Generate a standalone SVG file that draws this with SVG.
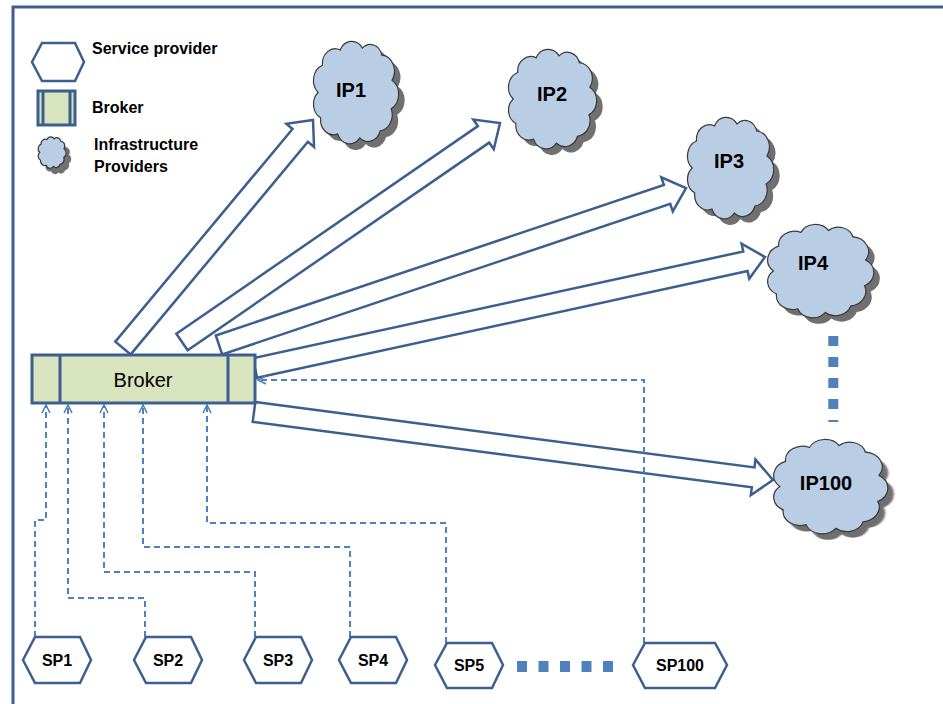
<svg xmlns="http://www.w3.org/2000/svg" xmlns:xlink="http://www.w3.org/1999/xlink" width="943" height="704" viewBox="0 0 943 704">
  <style>
    .frame { fill: none; stroke: #3d5f8f; stroke-width: 3; }
    .hex { fill: #ffffff; stroke: #3d5f8f; stroke-width: 2.5; stroke-linejoin: miter; }
    .brk { fill: #d7e4bd; stroke: #3d5f8f; stroke-width: 3; }
    .brkline { stroke: #3d5f8f; stroke-width: 3; }
    .cloud { fill: #b9cde5; stroke: #3a3a3a; stroke-width: 1.2; }
    .shadow { fill: #6f6f6f; stroke: none; }
    .block { fill: #ffffff; stroke: #3d5f8f; stroke-width: 2.5; stroke-linejoin: miter; }
    .dash { fill: none; stroke: #4f81bd; stroke-width: 2; stroke-dasharray: 6 4; marker-end: url(#chev); }
    .dots { fill: none; stroke: #4f81bd; }
    .lbl { font-family: "Liberation Sans", Arial, sans-serif; font-weight: bold; fill: #000000; }
    .ip { font-size: 20px; text-anchor: middle; }
    .sp { font-size: 16px; text-anchor: middle; }
    .leg { font-size: 16px; }
    .main { font-family: "Liberation Sans", Arial, sans-serif; font-size: 20px; fill: #000000; text-anchor: middle; }
  </style>
  <defs>
    <!-- generic cloud outline in a 100x100 box -->
    <path id="cloud" vector-effect="non-scaling-stroke" d="M6,50 A16,16 0 0 1 11,23 A15,15 0 0 1 32,8 A15,15 0 0 1 58,6 A14,14 0 0 1 81,13 A16,16 0 0 1 93,38 A16,16 0 0 1 92,66 A16,16 0 0 1 79,88 A15,15 0 0 1 55,95 A15,15 0 0 1 29,91 A15,15 0 0 1 9,75 A15,15 0 0 1 6,50 Z"/>
    <filter id="soft" x="-10%" y="-10%" width="120%" height="120%">
      <feGaussianBlur stdDeviation="0.7"/>
    </filter>
    <marker id="chev" viewBox="0 0 10 10" refX="9" refY="5" markerWidth="10" markerHeight="10" markerUnits="userSpaceOnUse" orient="auto">
      <path d="M1,1 L9,5 L1,9" fill="none" stroke="#4f81bd" stroke-width="1.6"/>
    </marker>
  </defs>

  <rect class="frame" x="13" y="7" width="945" height="712"/>

  <!-- legend -->
  <g id="legend">
    <polygon class="hex" points="32,62 42,43 75,43 84,62 75,81 42,81"/>
    <text class="lbl leg" x="92" y="54">Service provider</text>
    <rect class="brk" x="38" y="91" width="37" height="34" stroke-width="2.5"/>
    <line class="brkline" x1="43" y1="91" x2="43" y2="125" stroke-width="2"/>
    <line class="brkline" x1="70" y1="91" x2="70" y2="125" stroke-width="2"/>
    <text class="lbl leg" x="92" y="113">Broker</text>
    <use href="#cloud" class="shadow" filter="url(#soft)" transform="translate(43,143) scale(0.28,0.31)"/>
    <use href="#cloud" class="cloud" transform="translate(38,137) scale(0.28,0.31)"/>
    <text class="lbl leg" x="94" y="150">Infrastructure</text>
    <text class="lbl leg" x="94" y="172">Providers</text>
  </g>

  <!-- connectors -->
  <g id="connectors">
    <!-- broker to infrastructure providers -->
    <polygon class="block" transform="translate(123,348) rotate(-50.19)" points="0,-10 276.8,-10 276.8,-18 296.8,0 276.8,18 276.8,10 0,10"/>
    <polygon class="block" transform="translate(182,342) rotate(-34.55)" points="0,-10 366.1,-10 366.1,-18 386.1,0 366.1,18 366.1,10 0,10"/>
    <polygon class="block" transform="translate(219,345) rotate(-18.58)" points="0,-10 472.7,-10 472.7,-18 492.7,0 472.7,18 472.7,10 0,10"/>
    <polygon class="block" transform="translate(255,368) rotate(-12.28)" points="0,-10 501.9,-10 501.9,-18 521.9,0 501.9,18 501.9,10 0,10"/>
    <polygon class="block" transform="translate(254,412) rotate(7.46)" points="0,-10 503.4,-10 503.4,-18 523.4,0 503.4,18 503.4,10 0,10"/>

    <!-- service providers to broker -->
    <path class="dash" d="M35,637 V520 H46 V405"/>
    <path class="dash" d="M145,637 V598 H68 V405"/>
    <path class="dash" d="M255,637 V572 H104 V405"/>
    <path class="dash" d="M350,637 V547 H143 V405"/>
    <path class="dash" d="M446,643 V523 H207 V405"/>
    <path class="dash" d="M644,643 V380 H258"/>

    <!-- ellipses -->
    <line class="dots" x1="833.3" y1="336" x2="833.3" y2="422" stroke-width="10" stroke-dasharray="10 11"/>
    <line class="dots" x1="517" y1="666.5" x2="613" y2="666.5" stroke-width="11" stroke-dasharray="10 11.5"/>
  </g>

  <!-- broker -->
  <g id="broker">
    <rect class="brk" x="32" y="355" width="223" height="48"/>
    <line class="brkline" x1="60" y1="355" x2="60" y2="403"/>
    <line class="brkline" x1="228" y1="355" x2="228" y2="403"/>
    <text class="main" x="143" y="387">Broker</text>
  </g>

  <!-- infrastructure providers -->
  <g id="ip1">
    <use href="#cloud" class="shadow" filter="url(#soft)" transform="translate(319,48) scale(0.85,1.01)"/>
    <use href="#cloud" class="cloud" transform="translate(313,42) scale(0.85,1.01)"/>
    <text class="lbl ip" x="351" y="97">IP1</text>
  </g>
  <g id="ip2">
    <use href="#cloud" class="shadow" filter="url(#soft)" transform="translate(514,56) scale(0.88,0.98)"/>
    <use href="#cloud" class="cloud" transform="translate(508,50) scale(0.88,0.98)"/>
    <text class="lbl ip" x="552" y="101">IP2</text>
  </g>
  <g id="ip3">
    <use href="#cloud" class="shadow" filter="url(#soft)" transform="translate(693,124) scale(0.86,1.0)"/>
    <use href="#cloud" class="cloud" transform="translate(687,118) scale(0.86,1.0)"/>
    <text class="lbl ip" x="729" y="168">IP3</text>
  </g>
  <g id="ip4">
    <use href="#cloud" class="shadow" filter="url(#soft)" transform="translate(773,231) scale(1.06,0.92)"/>
    <use href="#cloud" class="cloud" transform="translate(767,225) scale(1.06,0.92)"/>
    <text class="lbl ip" x="813" y="270">IP4</text>
  </g>
  <g id="ip100">
    <use href="#cloud" class="shadow" filter="url(#soft)" transform="translate(779,446) scale(1.14,0.93)"/>
    <use href="#cloud" class="cloud" transform="translate(773,440) scale(1.14,0.93)"/>
    <text class="lbl ip" x="826" y="490">IP100</text>
  </g>

  <!-- service providers -->
  <g id="sp1">
    <polygon class="hex" points="23,660 35,637 80,637 91,660 80,683 35,683"/>
    <text class="lbl sp" x="57" y="666">SP1</text>
  </g>
  <g id="sp2">
    <polygon class="hex" points="134,660 146,637 191,637 202,660 191,683 146,683"/>
    <text class="lbl sp" x="168" y="666">SP2</text>
  </g>
  <g id="sp3">
    <polygon class="hex" points="244,660 256,637 301,637 312,660 301,683 256,683"/>
    <text class="lbl sp" x="278" y="666">SP3</text>
  </g>
  <g id="sp4">
    <polygon class="hex" points="339,660 351,637 396,637 407,660 396,683 351,683"/>
    <text class="lbl sp" x="373" y="666">SP4</text>
  </g>
  <g id="sp5">
    <polygon class="hex" points="435,665 447,643 492,643 503,665 492,688 447,688"/>
    <text class="lbl sp" x="469" y="671">SP5</text>
  </g>
  <g id="sp100">
    <polygon class="hex" points="633,665 645,643 715,643 727,665 715,688 645,688"/>
    <text class="lbl sp" x="680" y="671">SP100</text>
  </g>
</svg>
